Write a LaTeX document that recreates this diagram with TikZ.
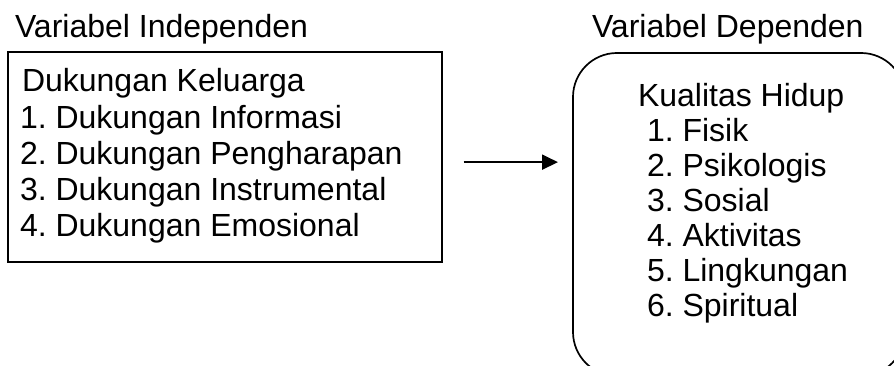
\documentclass[tikz,border=0pt]{standalone}
\usepackage{fontspec}
\setmainfont{Liberation Sans}
\usetikzlibrary{arrows.meta}
\frenchspacing
\tikzset{
  txt/.style={anchor=base west, inner sep=0pt, outer sep=0pt, font=\fontsize{32pt}{36pt}\selectfont\frenchspacing},
  boxline/.style={draw=black, line width=1.7pt},
  conn/.style={line width=1.9pt, -{Triangle[length=16pt,width=15pt]}}
}
\begin{document}
\begin{tikzpicture}[x=1pt,y=1pt]
\useasboundingbox (0,0) rectangle (894,366);
\begin{scope}
\clip (0,0) rectangle (894,366);
% left box
\node[boxline, rectangle, minimum width=434pt, minimum height=210pt, inner sep=0pt, anchor=south west] (L) at (7,103) {};
% right rounded box
\draw[boxline, rounded corners=44pt] (573,313) rectangle (905,-10);
\coordinate (RW) at (573,203);
\end{scope}

\node[txt] (t1) at (15,328) {Variabel Independen};
\node[txt] (t2) at (592,328) {Variabel Dependen};

\node[txt] (l0) at (22,274) {Dukungan Keluarga};
\node[txt] (l1) at (20,237.8) {1. Dukungan Informasi};
\node[txt] (l2) at (20,201.6) {2. Dukungan Pengharapan};
\node[txt] (l3) at (20,165.4) {3. Dukungan Instrumental};
\node[txt] (l4) at (20,129.2) {4. Dukungan Emosional};

\node[txt] (r0) at (638,259) {Kualitas Hidup};
\node[txt] (r1) at (647,224) {1. Fisik};
\node[txt] (r2) at (647,189) {2. Psikologis};
\node[txt] (r3) at (647,154) {3. Sosial};
\node[txt] (r4) at (647,119) {4. Aktivitas};
\node[txt] (r5) at (647,84) {5. Lingkungan};
\node[txt] (r6) at (647,49) {6. Spiritual};

\coordinate (A) at ([xshift=21pt,yshift=-5pt]L.east);
\coordinate (B) at ([xshift=-15pt]RW |- A);
\draw[conn] (A) -- (B);
\end{tikzpicture}
\end{document}
